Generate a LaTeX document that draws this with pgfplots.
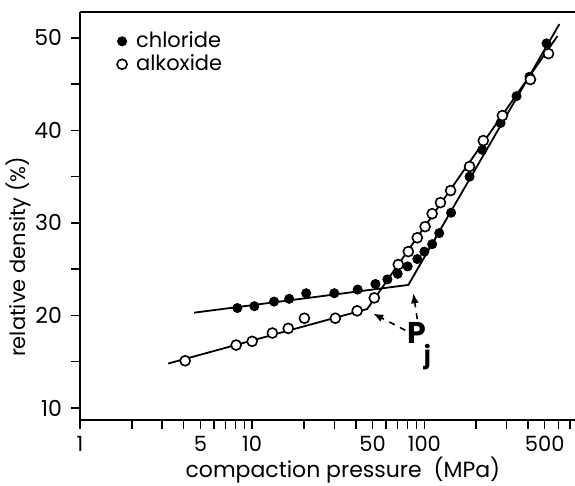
\documentclass[border=0pt]{standalone}
\usepackage{fontspec}
\setmainfont{Poppins}
\usepackage{pgfplots}
\pgfplotsset{compat=1.18}
\usetikzlibrary{arrows.meta}

\begin{document}
\begin{tikzpicture}
\begin{axis}[
  scale only axis,
  width=247.5pt,height=204pt,
  xmode=log,
  xmin=1,xmax=750,
  ymin=8.7,ymax=52.8,
  axis x line*=box,
  axis y line*=left,
  xtick pos=bottom,
  tick align=outside,
  major tick length=4.5pt,
  minor tick length=4.5pt,
  every tick/.style={black,line width=0.7pt},
  axis line style={line width=0.8pt},
  xtick={1,5,10,50,100,500},
  xticklabels={1,5,10,50,100,500},
  minor xtick={2,3,4,6,7,8,9,20,30,40,60,70,80,90,200,300,400,600,700},
  ytick={10,20,30,40,50},
  minor ytick={15,25,35,45},
  /pgf/number format/assume math mode=true,
  xticklabel style={font=\fontsize{10.5}{12}\selectfont},
  yticklabel style={font=\fontsize{11}{12}\selectfont,xshift=-1pt},
  label style={font=\fontsize{11}{13}\selectfont},
  xlabel={compaction pressure\ \ (MPa)},
  ylabel={relative density (\%)},
  xlabel style={at={(rel axis cs:0.531,0)},anchor=center,yshift=-25pt},
  ylabel style={at={(rel axis cs:0,0.40)},anchor=center,yshift=31pt,
    font=\fontsize{10.5}{13}\selectfont},
  legend style={draw=none,fill=none,at={(0.062,0.972)},anchor=north west,
    font=\fontsize{10.5}{12}\selectfont,row sep=-2pt,
    /tikz/every odd column/.append style={column sep=2.5pt}},
  legend cell align=left,
  clip=false,
]
\coordinate (bl) at (rel axis cs:0,0);
\coordinate (tr) at (rel axis cs:1,1);
% fitted lines
\addplot[black,line width=0.9pt,forget plot] coordinates {
  (4.6,20.3) (80.7,23.3) (609,51.5)};
\addplot[black,line width=0.9pt,forget plot] coordinates {
  (3.25,14.8) (46.6,20.7) (593,50.2)};
% chloride
\addplot[only marks,mark=*,mark size=2.3pt,black] coordinates {
  (8.2,20.8) (10.3,21.0) (13.4,21.5) (16.4,21.8) (20.6,22.4) (30,22.4)
  (41,22.8) (52,23.4) (61,23.9) (70,24.5) (80,25.3) (91,26.1) (100,26.9)
  (111,27.7) (122,28.9) (143,31.1) (183,35.0) (217,37.9) (277,40.8)
  (343,43.7) (408,45.8) (512,49.4)};
\addlegendentry{chloride}
% alkoxide
\addplot[only marks,mark=*,mark size=2.5pt,draw=black,fill=white,line width=0.8pt]
  coordinates {
  (4.08,15.1) (8.07,16.8) (10.0,17.2) (13.1,18.1) (16.2,18.6) (20.1,19.7)
  (30.4,19.7) (40.7,20.5) (51.2,21.9) (70.6,25.5) (80.7,26.9) (91,28.4)
  (101,29.6) (111,31.0) (124,32.2) (142,33.5) (183,36.1) (220,38.9)
  (284,41.6) (413,45.5) (526,48.3)};
\addlegendentry{alkoxide}
% P_j annotation
\draw[dashed,line width=0.8pt,-{Latex[length=5pt,width=4pt]}]
  (axis cs:91,19.6) -- (axis cs:86.3,22.4);
\draw[dashed,line width=0.8pt,-{Latex[length=5pt,width=4pt]}]
  (axis cs:77.5,18.4) -- (axis cs:50.5,20.2);
\node[font=\fontsize{15}{15}\selectfont\bfseries,inner sep=0pt] at (axis cs:91,18.1) {P};
\node[font=\fontsize{12}{12}\selectfont\bfseries,inner sep=0pt] at (axis cs:104,15.5) {j};
\end{axis}
\pgfresetboundingbox
\path[use as bounding box] ([xshift=-40pt,yshift=-32.5pt]bl) rectangle ([yshift=6pt]tr);
\end{tikzpicture}
\end{document}
